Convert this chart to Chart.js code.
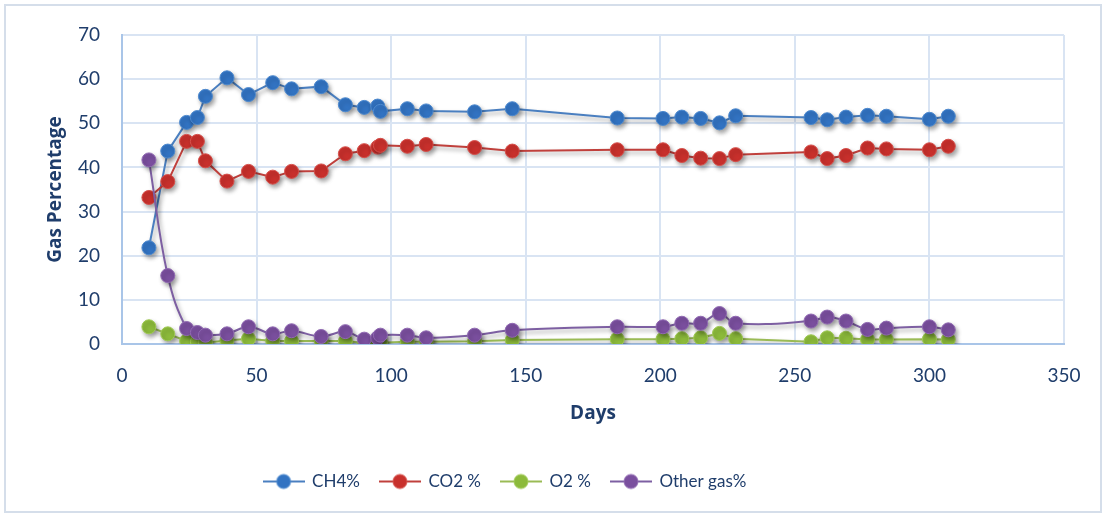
<!DOCTYPE html>
<html>
<head>
<meta charset="utf-8">
<script src="https://cdn.jsdelivr.net/npm/chart.js@4.4.1/dist/chart.umd.min.js"></script>
<style>
  html, body { margin: 0; padding: 0; background: #ffffff; }
  #wrap { width: 1106px; height: 517px; position: relative; }
</style>
</head>
<body>
<div id="wrap"><canvas id="gas" width="1106" height="517"></canvas></div>
<script>
// Digestion days on which gas composition was sampled
const days = [10, 17, 24, 28, 31, 39, 47, 56, 63, 74, 83, 90, 95, 96, 106, 113, 131, 145,
              184, 201, 208, 215, 222, 228, 256, 262, 269, 277, 284, 300, 307];

// Gas composition (% by volume)
const ch4 = [21.8, 43.7, 50.2, 51.3, 56.1, 60.3, 56.5, 59.2, 57.8, 58.3, 54.2, 53.6, 53.9, 52.7, 53.3, 52.8, 52.6, 53.3,
             51.2, 51.1, 51.4, 51.1, 50.1, 51.7, 51.3, 50.8, 51.4, 51.8, 51.6, 50.9, 51.6];
const co2 = [33.2, 36.8, 45.9, 45.9, 41.5, 36.9, 39.1, 37.8, 39.1, 39.2, 43.1, 43.8, 44.6, 45.0, 44.8, 45.2, 44.5, 43.7,
             44.0, 44.0, 42.7, 42.1, 42.0, 42.9, 43.5, 42.0, 42.7, 44.4, 44.2, 44.0, 44.8];
const o2 = [3.9, 2.3, 0.7, 0.5, 0.3, 0.8, 1.2, 0.7, 0.7, 0.7, 0.7, 0.2, 0.3, 0.3, 0.5, 0.5, 0.6, 0.9,
            1.1, 1.1, 1.2, 1.4, 2.4, 1.2, 0.5, 1.4, 1.3, 1.0, 1.0, 1.1, 1.0];
const otherGas = [41.7, 15.5, 3.5, 2.6, 2.0, 2.3, 3.9, 2.3, 3.0, 1.7, 2.8, 1.1, 1.4, 2.0, 2.0, 1.4, 2.0, 3.1,
                  3.9, 3.9, 4.7, 4.7, 6.9, 4.7, 5.2, 6.1, 5.2, 3.3, 3.6, 3.9, 3.2];

const seriesNames = ['CH4%', 'CO2 %', 'O2 %', 'Other gas%'];
const xTickValues = [0, 50, 100, 150, 200, 250, 300, 350];
const yTickValues = [0, 10, 20, 30, 40, 50, 60, 70];

const textColor = '#1F3D6B';
const fontFamily = 'Lato, "Open Sans", sans-serif';
const titleFamily = '"Open Sans", Lato, sans-serif';

const styles = [
  { line: '#4A7FC0', fill: '#3273C2', edge: '#4E8ACF' },
  { line: '#C0403C', fill: '#C8302C', edge: '#D6504B' },
  { line: '#9ABB55', fill: '#8CBA3B', edge: '#A0CA55' },
  { line: '#7D5FA2', fill: '#7A4F9E', edge: '#9069B2' }
];

function pairs(ys) { return days.map((d, i) => ({ x: d, y: ys[i] })); }

// Legend marker: short line with a dot in the middle
function legendMark(s) {
  const c = document.createElement('canvas');
  c.width = 42; c.height = 18;
  const g = c.getContext('2d');
  g.strokeStyle = s.line; g.lineWidth = 2;
  g.beginPath(); g.moveTo(0, 9); g.lineTo(42, 9); g.stroke();
  g.fillStyle = s.fill; g.strokeStyle = s.edge; g.lineWidth = 1;
  g.beginPath(); g.arc(21, 9, 7, 0, Math.PI * 2); g.fill(); g.stroke();
  return c;
}
const marks = styles.map(legendMark);

const values = [ch4, co2, o2, otherGas];
const tensions = [0, 0, 0, 0.4];
const datasets = values.map((v, i) => ({
  label: seriesNames[i],
  data: pairs(v),
  showLine: true,
  borderColor: styles[i].line,
  borderWidth: 2,
  tension: tensions[i],
  pointRadius: 7,
  pointHoverRadius: 7,
  pointBackgroundColor: styles[i].fill,
  pointBorderColor: styles[i].edge,
  pointBorderWidth: 1,
  order: 3 - i
}));

// Outer frame, soft drop shadow under the series, legend nudged left
const decor = {
  id: 'decor',
  afterLayout(chart) {
    if (chart.legend) { chart.legend.right -= 54; }
  },
  beforeDraw(chart) {
    const ctx = chart.ctx;
    ctx.save();
    ctx.fillStyle = '#ffffff';
    ctx.fillRect(0, 0, chart.width, chart.height);
    ctx.strokeStyle = '#D5DEEA';
    ctx.lineWidth = 2;
    ctx.strokeRect(5, 5, 1096, 507);
    ctx.restore();
  },
  beforeDatasetsDraw(chart) {
    const ctx = chart.ctx;
    ctx.save();
    ctx.shadowColor = 'rgba(0,0,0,0.35)';
    ctx.shadowBlur = 4;
    ctx.shadowOffsetX = 2;
    ctx.shadowOffsetY = 3;
  },
  afterDatasetsDraw(chart) {
    chart.ctx.restore();
  }
};

new Chart(document.getElementById('gas'), {
  type: 'scatter',
  data: { datasets },
  plugins: [decor],
  options: {
    responsive: false,
    animation: false,
    devicePixelRatio: 1,
    layout: { padding: { left: 0, right: 42, top: 35, bottom: 17 } },
    plugins: {
      tooltip: { enabled: false },
      legend: {
        position: 'bottom',
        labels: {
          usePointStyle: true,
          pointStyleWidth: 40,
          boxHeight: 17,
          padding: 20,
          color: textColor,
          font: { family: fontFamily, size: 17 },
          sort: (a, b) => a.datasetIndex - b.datasetIndex,
          generateLabels(chart) {
            const items = Chart.defaults.plugins.legend.labels.generateLabels(chart);
            items.forEach(it => { it.pointStyle = marks[it.datasetIndex]; });
            return items;
          }
        }
      }
    },
    scales: {
      x: {
        type: 'linear',
        min: 0, max: 350,
        afterBuildTicks(scale) { scale.ticks = xTickValues.map(v => ({ value: v })); },
        afterFit(scale) { scale.height = 109; },
        grid: { color: '#D9E4F3', lineWidth: 2, drawTicks: false },
        border: { color: '#A9C5E8', width: 2 },
        ticks: { color: textColor, padding: 20, font: { family: fontFamily, size: 19 } },
        title: {
          display: true, text: 'Days', color: textColor,
          font: { family: titleFamily, size: 19, weight: 'bold' },
          padding: { top: 0, bottom: 28 }
        }
      },
      y: {
        min: 0, max: 70,
        afterBuildTicks(scale) { scale.ticks = yTickValues.map(v => ({ value: v })); },
        afterFit(scale) { scale.width = 122; },
        grid: { color: '#D9E4F3', lineWidth: 2, drawTicks: false },
        border: { color: '#A9C5E8', width: 2 },
        ticks: { color: textColor, padding: 22, font: { family: fontFamily, size: 19 } },
        title: {
          display: true, text: 'Gas Percentage', color: textColor,
          font: { family: titleFamily, size: 19, weight: 'bold' },
          padding: { top: 44, bottom: 0 }
        }
      }
    }
  }
});
</script>
</body>
</html>
